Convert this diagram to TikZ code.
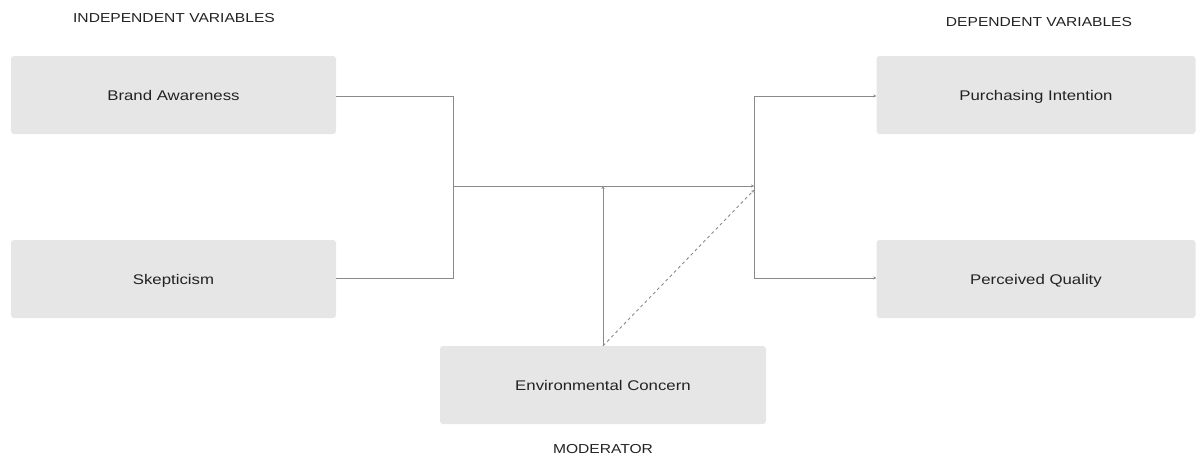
\documentclass[tikz,border=0pt]{standalone}
\usepackage{fontspec}
\setmainfont{Liberation Sans}[FakeStretch=1.2]
\usetikzlibrary{arrows.meta}
\definecolor{boxfill}{HTML}{E6E6E6}
\definecolor{linegray}{HTML}{8A8A8A}
\definecolor{txt}{HTML}{222222}
\tikzset{
  varbox/.style={fill=boxfill, rounded corners=3pt, minimum width=325pt, minimum height=78pt, inner sep=0pt, text=txt, font=\fontsize{14}{16}\selectfont, text height=12.5pt, text depth=1pt},
  headlabel/.style={text=txt, font=\fontsize{13}{15}\selectfont, inner sep=0pt},
  conn/.style={draw=linegray, line width=0.9pt},
  tip/.style={-{Stealth[length=3pt,width=3pt]}},
}
\begin{document}
\begin{tikzpicture}[x=1pt,y=-1pt]
\useasboundingbox (0,0) rectangle (1196,455);
\node[headlabel] (hind) at (174,18) {INDEPENDENT VARIABLES};
\node[headlabel] (hdep) at (1039,22) {DEPENDENT VARIABLES};
\node[headlabel] (hmod) at (603,449) {MODERATOR};

\node[varbox] (ba) at (173.5,95) {Brand Awareness};
\node[varbox] (sk) at (173.5,279) {Skepticism};
\node[varbox, minimum width=319pt] (pi) at (1036,95) {Purchasing Intention};
\node[varbox, minimum width=319pt] (pq) at (1036,279) {Perceived Quality};
\node[varbox, minimum width=326pt] (ec) at (603,385) {Environmental Concern};

\coordinate (jl) at (453,186);
\coordinate (jm) at (603,186);
\coordinate (jr) at (754,186);
\coordinate (jd) at (754,190);

\draw[conn] ([yshift=-1pt]ba.east) -| (jl);
\draw[conn] ([yshift=1pt]sk.east) -| (jl);
\draw[conn, tip] (jl) -- (jr);
\draw[conn, tip] (ec.north) -- (jm);
\draw[conn, tip, dashed, dash pattern=on 3pt off 3pt] (ec.north) -- (jd);
\draw[conn, tip] (jr) |- ([yshift=-1pt]pi.west);
\draw[conn, tip] (jr) |- ([yshift=1pt]pq.west);
\end{tikzpicture}
\end{document}
